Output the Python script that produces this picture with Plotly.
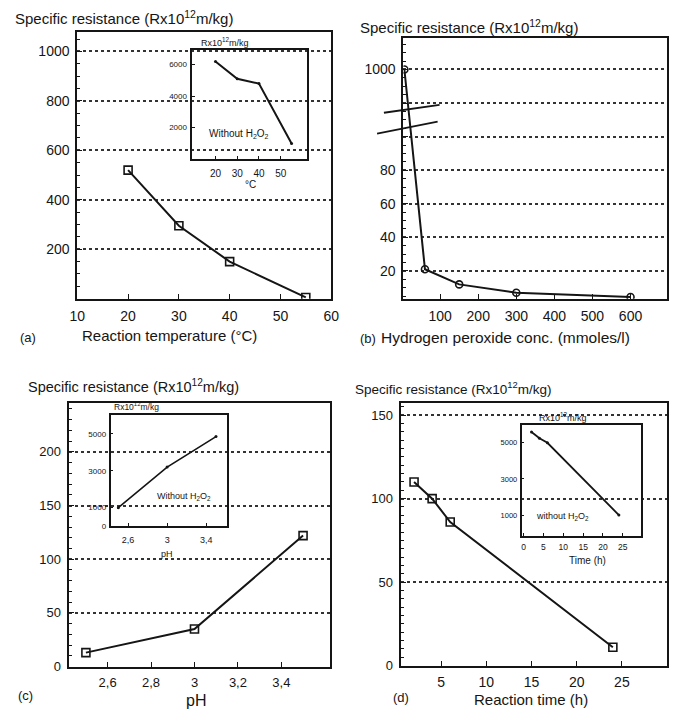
import plotly.graph_objects as go

W, H = 678, 724

# ---------------- data ----------------
# (a) reaction temperature
temp_a = [20, 30, 40, 55]
res_a = [520, 295, 150, 5]
temp_a_inset = [20, 30, 40, 55]
res_a_inset = [6200, 5100, 4800, 1000]
a_xticks = [10, 20, 30, 40, 50, 60]
a_yticks = [200, 400, 600, 800, 1000]
a_in_xticks = [20, 30, 40, 50]
a_in_yticks = [2000, 4000, 6000]

# (b) hydrogen peroxide concentration (broken y axis: 1000 drawn at level 140)
h2o2_b = [6, 60, 150, 300, 600]
res_b = [1000, 21, 12, 7, 4.5]
b_xticks = [100, 200, 300, 400, 500, 600]
b_ytick_vals = [20, 40, 60, 80, 100, 120, 140]
b_ytick_text = ["20", "40", "60", "80", " ", " ", "1000"]

# (c) pH
ph_c = [2.5, 3.0, 3.5]
res_c = [13, 35, 122]
ph_c_inset = [2.5, 3.0, 3.5]
res_c_inset = [1000, 3200, 4850]
c_xticks = [2.6, 2.8, 3.0, 3.2, 3.4]
c_xtext = ["2,6", "2,8", "3", "3,2", "3,4"]
c_yticks = [0, 50, 100, 150, 200]
c_in_xticks = [2.6, 3.0, 3.4]
c_in_xtext = ["2,6", "3", "3,4"]
c_in_yticks = [0, 1000, 3000, 5000]

# (d) reaction time
time_d = [2, 4, 6, 24]
res_d = [110, 100, 86, 11]
time_d_inset = [2, 4, 6, 24]
res_d_inset = [5600, 5250, 5000, 1000]
d_xticks = [5, 10, 15, 20, 25]
d_yticks = [0, 50, 100, 150]
d_in_xticks = [0, 5, 10, 15, 20, 25]
d_in_yticks = [1000, 3000, 5000]


def broken(v):
    # values above the axis break are drawn at the "1000" level
    return 140 if v >= 1000 else v


# ---------------- helpers ----------------
def dx(x0, x1):
    return [x0 / W, x1 / W]


def dy(y0, y1):
    return [1 - y1 / H, 1 - y0 / H]


INK = "#151515"
FONT = "Liberation Sans, Arial, Helvetica, sans-serif"


def axis(domain, rng, tickvals, ticktext=None, size=14, grid=False, lw=2,
         ticklen=5, minor=False, standoff=3, anchor=None):
    d = dict(domain=domain, range=rng, showline=True, mirror=True,
             linecolor=INK, linewidth=lw, ticks="inside", ticklen=ticklen,
             tickwidth=1.3, tickcolor=INK, zeroline=False,
             tickvals=tickvals, ticktext=ticktext if ticktext is not None else [str(v) for v in tickvals],
             tickfont=dict(size=size, color=INK, family=FONT),
             showgrid=grid, ticklabelstandoff=standoff, anchor=anchor)
    if grid:
        d.update(gridcolor="#333333", griddash="dot", gridwidth=1.6)
    if minor:
        d.update(minor=dict(ticks="inside", ticklen=3, tickcolor=INK, tickwidth=1, nticks=0))
    return d


fig = go.Figure()

main_line = dict(color=INK, width=2)
main_marker = dict(symbol="square-open", size=8, color=INK, line=dict(width=1.6, color=INK))
in_line = dict(color=INK, width=2)
in_marker = dict(symbol="circle", size=3, color=INK)

fig.add_trace(go.Scatter(x=temp_a, y=res_a, mode="lines+markers", line=main_line,
                         marker=main_marker, xaxis="x", yaxis="y"))
fig.add_trace(go.Scatter(x=h2o2_b, y=[broken(v) for v in res_b], mode="lines+markers",
                         line=main_line, marker=dict(main_marker, symbol="circle-open", size=7),
                         xaxis="x2", yaxis="y2"))
fig.add_trace(go.Scatter(x=ph_c, y=res_c, mode="lines+markers", line=main_line,
                         marker=main_marker, xaxis="x3", yaxis="y3"))
fig.add_trace(go.Scatter(x=time_d, y=res_d, mode="lines+markers", line=main_line,
                         marker=main_marker, xaxis="x4", yaxis="y4"))
fig.add_trace(go.Scatter(x=temp_a_inset, y=res_a_inset, mode="lines+markers", line=in_line,
                         marker=in_marker, xaxis="x5", yaxis="y5"))
fig.add_trace(go.Scatter(x=ph_c_inset, y=res_c_inset, mode="lines+markers", line=dict(color=INK, width=1.6),
                         marker=in_marker, xaxis="x6", yaxis="y6"))
fig.add_trace(go.Scatter(x=time_d_inset, y=res_d_inset, mode="lines+markers", line=dict(color=INK, width=1.8),
                         marker=in_marker, xaxis="x7", yaxis="y7"))

layout = dict(
    width=W, height=H, autosize=False, showlegend=False,
    margin=dict(l=0, r=0, t=0, b=0),
    paper_bgcolor="white", plot_bgcolor="rgba(0,0,0,0)",
    font=dict(family=FONT, color=INK),
    # (a)
    xaxis=axis(dx(71, 331), [10, 60], a_xticks, size=14, standoff=4, anchor="y"),
    yaxis=axis(dy(32, 302), [0, 1080], a_yticks, size=14, grid=True, minor=True, anchor="x"),
    # (b)
    xaxis2=axis(dx(405, 675), [3.5, 696], b_xticks, size=14, standoff=4, anchor="y2"),
    yaxis2=axis(dy(38, 302), [3.5, 159], b_ytick_vals, b_ytick_text, size=14, grid=True,
                minor=True, anchor="x2"),
    # (c)
    xaxis3=axis(dx(62, 330), [2.42, 3.625], c_xticks, c_xtext, size=13, standoff=3, anchor="y3"),
    yaxis3=axis(dy(407, 674), [0, 246], c_yticks, size=13, grid=True, minor=True, anchor="x3"),
    # (d)
    xaxis4=axis(dx(402, 675), [0.5, 30], d_xticks, size=14, standoff=3, anchor="y4"),
    yaxis4=axis(dy(408, 673), [0, 157], d_yticks, size=13, grid=True, minor=True, anchor="x4"),
    # inset (a)
    xaxis5=axis(dx(188, 306), [9, 62], a_in_xticks, size=10, lw=2, ticklen=3, standoff=4, anchor="y5"),
    yaxis5=axis(dy(51, 161), [0, 6900], a_in_yticks, size=8, lw=2, ticklen=3, standoff=1, anchor="x5"),
    # inset (c)
    xaxis6=axis(dx(105, 224), [2.42, 3.61], c_in_xticks, c_in_xtext, size=9, lw=1.6, ticklen=3,
                standoff=4, anchor="y6"),
    yaxis6=axis(dy(420, 532), [0, 6000], c_in_yticks, size=8, lw=1.6, ticklen=3, standoff=1, anchor="x6"),
    # inset (d)
    xaxis7=axis(dx(526, 648), [-0.5, 29.5], d_in_xticks, size=8.5, lw=1.6, ticklen=3, standoff=2, anchor="y7"),
    yaxis7=axis(dy(430, 542), [-160, 5970], d_in_yticks, size=7.5, lw=1.6, ticklen=3, standoff=1, anchor="x7"),
)
fig.update_layout(**layout)


def note(text, x, y, size, xanchor="center"):
    fig.add_annotation(text=text, x=x / W, y=1 - y / H, xref="paper", yref="paper",
                       xanchor=xanchor, yanchor="middle", showarrow=False,
                       font=dict(size=size, color=INK, family=FONT))


title = "Specific resistance (Rx10<sup>12</sup>m/kg)"
note(title, 5, 18, 15, "left")
note(title, 358, 27, 15, "left")
note(title, 18, 390, 14.5, "left")
note(title, 353, 392, 13.5, "left")

note("(a)", 10, 341, 13, "left")
note("Reaction temperature (°C)", 165, 339, 15)
note("(b)", 358, 342, 13, "left")
note("Hydrogen peroxide conc. (mmoles/l)", 380, 341, 15.5, "left")
note("(c)", 8, 703, 13, "left")
note("pH", 193, 708, 16)
note("(d)", 392, 705, 13, "left")
note("Reaction time (h)", 536, 707, 15)

inset_title = "Rx10<sup>12</sup>m/kg"
note(inset_title, 222, 42, 9)
note("Without H<sub>2</sub>O<sub>2</sub>", 237, 135, 10)
note("°C", 248, 187, 10)
note(inset_title, 132, 411, 8.5)
note("Without H<sub>2</sub>O<sub>2</sub>", 180, 502, 9)
note("pH", 163, 560, 9)
note(inset_title, 568, 422, 9)
note("without H<sub>2</sub>O<sub>2</sub>", 568, 522, 9)
note("Time (h)", 593, 567, 10)

# axis-break marks on panel (b)
for (x0, y0, x1, y1) in [(385, 114, 442, 106), (378, 135, 440, 123)]:
    fig.add_shape(type="line", xref="paper", yref="paper",
                  x0=x0 / W, y0=1 - y0 / H, x1=x1 / W, y1=1 - y1 / H,
                  line=dict(color=INK, width=1.8))

fig.write_html("out.html", config={"displayModeBar": False},
               post_script="document.body.style.margin='0px';")
